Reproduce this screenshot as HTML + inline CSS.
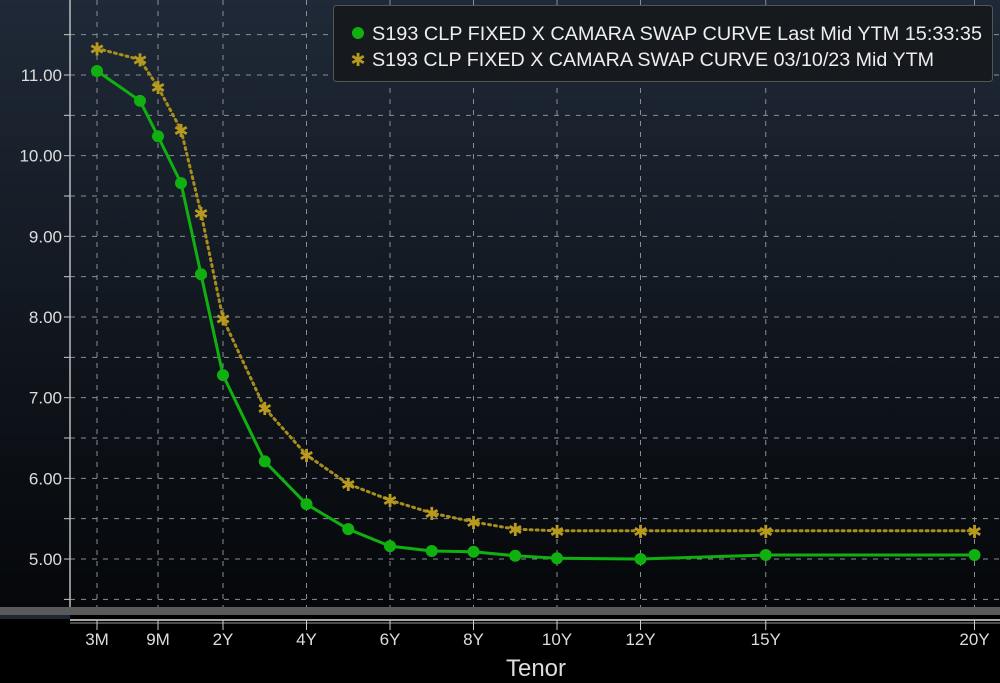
<!DOCTYPE html>
<html><head><meta charset="utf-8"><style>
html,body{margin:0;padding:0;background:#000;}
svg{display:block;font-family:"Liberation Sans Narrow","Liberation Sans",sans-serif;}
</style></head><body>
<svg id="chart" width="1000" height="683" viewBox="0 0 1000 683">
<defs>
<linearGradient id="bg" x1="0" y1="0" x2="0" y2="1">
<stop offset="0" stop-color="#1f2937"/><stop offset="1" stop-color="#05070a"/>
</linearGradient>
</defs>
<rect x="0" y="0" width="1000" height="607" fill="url(#bg)"/>
<g id="grid"></g>
<g id="yaxis"></g>
<rect x="0" y="607" width="1000" height="8" fill="#5a5a5a"/>
<rect x="0" y="615" width="70" height="4" fill="#1c2733"/>
<line x1="70" y1="620" x2="1000" y2="620" stroke="#ddd" stroke-width="1.5"/>
<line x1="70" y1="623" x2="1000" y2="623" stroke="#999" stroke-width="1"/>
<g id="xaxis"></g>
<text x="536" y="676" fill="#ddd" font-size="24" text-anchor="middle">Tenor</text>
<g id="series"></g>
<g>
<rect x="333.5" y="5.5" width="659" height="76" rx="3" fill="#16191d" stroke="#555"/>
<circle cx="358" cy="33" r="6" fill="#10b010"/>
<text x="372" y="40" fill="#eee" font-size="19" textLength="610" lengthAdjust="spacingAndGlyphs">S193 CLP FIXED X CAMARA SWAP CURVE Last Mid YTM 15:33:35</text>
<text x="358" y="66" fill="#b89a20" font-size="18" text-anchor="middle">✱</text>
<text x="372" y="66" fill="#eee" font-size="19" textLength="562" lengthAdjust="spacingAndGlyphs">S193 CLP FIXED X CAMARA SWAP CURVE 03/10/23 Mid YTM</text>
</g>
</svg>
<script>
const tenors = [0.25,0.5,0.75,1,1.5,2,3,4,5,6,7,8,9,10,12,15,20];
const currentYTM = [11.05,10.68,10.24,9.66,8.53,7.28,6.21,5.68,5.37,5.16,5.10,5.09,5.04,5.01,5.00,5.05,5.05];
const priorYTM = [11.33,11.19,10.85,10.32,9.29,7.98,6.87,6.29,5.93,5.73,5.57,5.46,5.37,5.35,5.35,5.35,5.35];
const xTickVals = [0.25,0.75,2,4,6,8,10,12,15,20];
const xTickLabels = ["3M","9M","2Y","4Y","6Y","8Y","10Y","12Y","15Y","20Y"];
const yTickVals = [5,6,7,8,9,10,11];
const yTickLabels = ["5.00","6.00","7.00","8.00","9.00","10.00","11.00"];

const NS="http://www.w3.org/2000/svg";
const knots=[[0.25,97],[0.5,140],[0.75,158],[1,181],[1.5,201],[2,223]];
function xs(t){
  if(t>=2) return 223+(t-2)*41.75;
  for(let i=0;i<knots.length-1;i++){const a=knots[i],b=knots[i+1];
    if(t<=b[0]) return a[1]+(t-a[0])/(b[0]-a[0])*(b[1]-a[1]);}
  return 97;
}
function ys(v){return 75+(11-v)*80.67;}
function mk(tag,attrs,parent){const e=document.createElementNS(NS,tag);for(const k in attrs)e.setAttribute(k,attrs[k]);parent.appendChild(e);return e;}
const grid=document.getElementById('grid'),yax=document.getElementById('yaxis'),xax=document.getElementById('xaxis'),ser=document.getElementById('series');
for(let v=4.5;v<=11.5;v+=0.5){
  const y=ys(v); if(y<0||y>606) continue;
  const l=mk('line',{x1:70,x2:1000,y1:y,y2:y,stroke:'#8a8f96','stroke-width':1,'stroke-dasharray':'5,6'},grid);
  
  
  mk('line',{x1:64,x2:70,y1:y,y2:y,stroke:'#ccc'},yax);
}
xTickVals.forEach((t,i)=>{
  const x=xs(t);
  const l=mk('line',{x1:x,x2:x,y1:0,y2:607,stroke:'#8a8f96','stroke-width':1,'stroke-dasharray':'5,6'},grid);
  
  
  mk('line',{x1:x,x2:x,y1:620,y2:630,stroke:'#ccc'},xax);
  const tx=mk('text',{x:x,y:645,fill:'#ddd','font-size':17,'text-anchor':'middle'},xax);
  tx.textContent=xTickLabels[i];
  
  
});
mk('line',{x1:70,x2:70,y1:0,y2:607,stroke:'#bbb','stroke-width':1.5},yax);
yTickVals.forEach((v,i)=>{
  const tx=mk('text',{x:62,y:ys(v)+6,fill:'#ddd','font-size':17,'text-anchor':'end'},yax);
  tx.textContent=yTickLabels[i];
  
  
});
const pp=tenors.map((t,i)=>xs(t)+','+ys(priorYTM[i])).join(' ');
const pl=mk('polyline',{points:pp,fill:'none',stroke:'#a88e1c','stroke-width':3,'stroke-dasharray':'2,4','stroke-linecap':'round'},ser);


tenors.forEach((t,i)=>{
  const s=mk('text',{x:xs(t),y:ys(priorYTM[i])+7,fill:'#b89a20','font-size':18,'text-anchor':'middle'},ser);
  s.textContent='✱';
  
  
});
const cp=tenors.map((t,i)=>xs(t)+','+ys(currentYTM[i])).join(' ');
const cl=mk('polyline',{points:cp,fill:'none',stroke:'#10b010','stroke-width':3},ser);


tenors.forEach((t,i)=>{
  const c=mk('circle',{cx:xs(t),cy:ys(currentYTM[i]),r:6,fill:'#10b010'},ser);
  
  
});
</script>
</body></html>
